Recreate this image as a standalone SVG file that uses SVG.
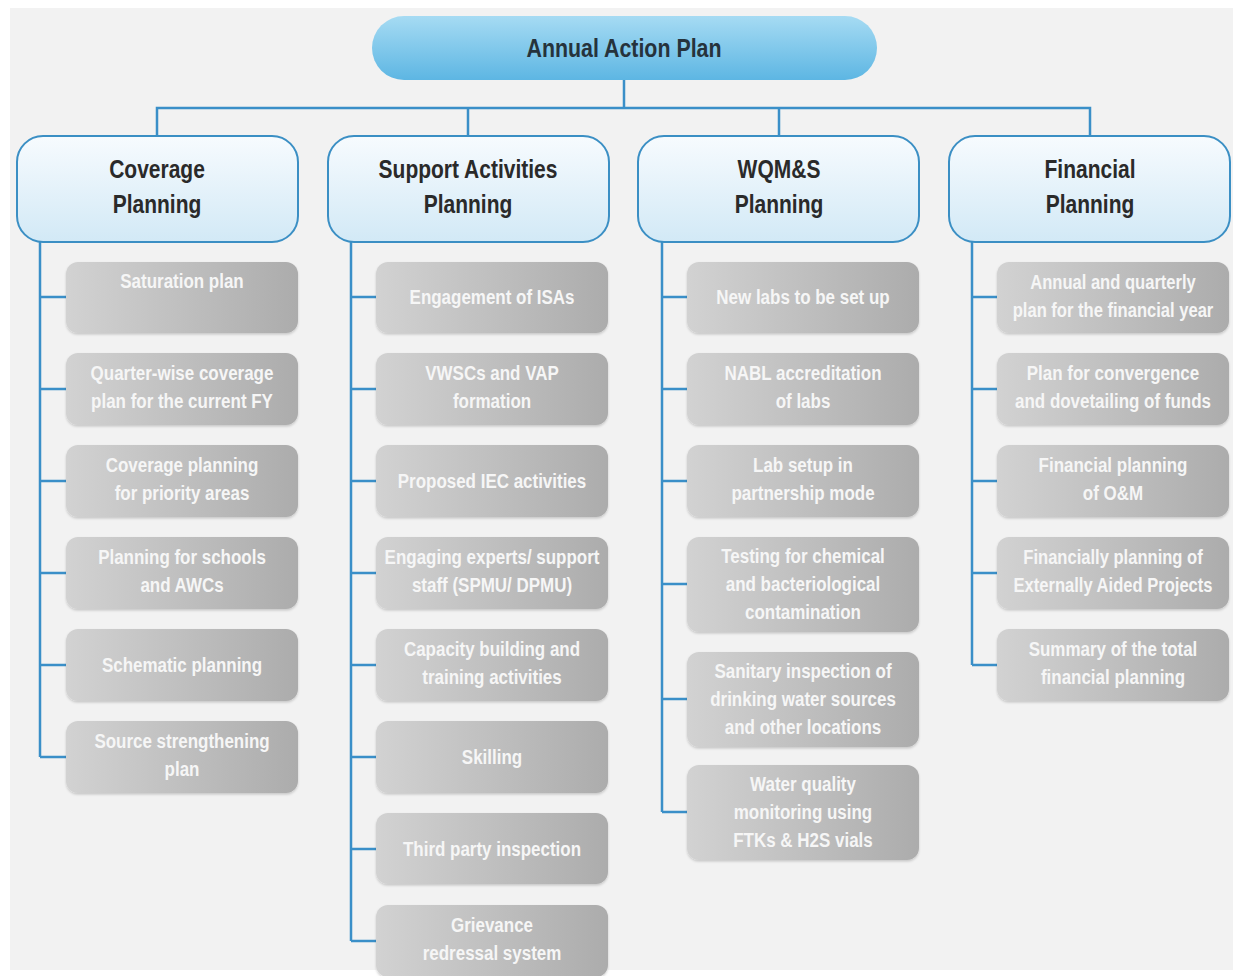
<svg xmlns="http://www.w3.org/2000/svg" width="1233" height="976" viewBox="0 0 1233 976">
<defs>
<linearGradient id="gTop" x1="0" y1="0" x2="0" y2="1">
<stop offset="0" stop-color="#a6dbf3"/>
<stop offset="1" stop-color="#5db6e3"/>
</linearGradient>
<linearGradient id="gHead" x1="0" y1="0" x2="0" y2="1">
<stop offset="0" stop-color="#f7fbfe"/>
<stop offset="1" stop-color="#d2e9f6"/>
</linearGradient>
<linearGradient id="gChild" x1="0" y1="0" x2="1" y2="0">
<stop offset="0" stop-color="#d2d2d2"/>
<stop offset="1" stop-color="#acacac"/>
</linearGradient>
<filter id="sh" x="-5%" y="-5%" width="110%" height="115%">
<feDropShadow dx="0" dy="1.5" stdDeviation="1.2" flood-color="#000" flood-opacity="0.18"/>
</filter>
</defs>
<style>
.top{fill:url(#gTop)}
.head{fill:url(#gHead);stroke:#3b8fc4;stroke-width:2}
.child{fill:url(#gChild);filter:url(#sh)}
.conn{fill:none;stroke:#3a8fc8;stroke-width:2.5}
text{font-family:"Liberation Sans",Arial,sans-serif;font-weight:bold;text-anchor:middle}
.tt{font-size:25px;fill:#26333c}
.ht{font-size:25px;fill:#2a2a2a}
.ct{font-size:19.5px;fill:#f6f6f6}
</style>
<rect x="0" y="0" width="1233" height="976" fill="#ffffff"/>
<rect x="10" y="8" width="1223" height="962" fill="#f2f2f2"/>

<g id="connectors" class="conn">
<path d="M624 80V108M157 136V108H1090V136M468 108V136M779 108V136"/>
<path d="M40 242V757M40 297H66M40 389H66M40 481H66M40 573H66M40 665H66M40 757H66"/>
<path d="M351 242V941M351 297H376M351 389H376M351 481H376M351 573H376M351 665H376M351 757H376M351 849H376M351 941H376"/>
<path d="M662 242V812M662 297H687M662 389H687M662 481H687M662 584H687M662 699H687M662 812H687"/>
<path d="M972 242V665M972 297H997M972 389H997M972 481H997M972 573H997M972 665H997"/>
</g>

<g id="annual-action-plan">
<rect class="top" x="372" y="16" width="505" height="64" rx="32"/>
<text class="tt" transform="translate(624 57) scale(0.855 1)">Annual Action Plan</text>
</g>

<g id="coverage-planning">
<rect class="head" x="17" y="136" width="281" height="106" rx="26"/>
<text class="ht" transform="translate(157 178) scale(0.84 1)"><tspan x="0">Coverage</tspan><tspan x="0" dy="35">Planning</tspan></text>
</g>
<g id="support-activities-planning">
<rect class="head" x="328" y="136" width="281" height="106" rx="26"/>
<text class="ht" transform="translate(468 178) scale(0.84 1)"><tspan x="0">Support Activities</tspan><tspan x="0" dy="35">Planning</tspan></text>
</g>
<g id="wqms-planning">
<rect class="head" x="638" y="136" width="281" height="106" rx="26"/>
<text class="ht" transform="translate(779 178) scale(0.84 1)"><tspan x="0">WQM&amp;S</tspan><tspan x="0" dy="35">Planning</tspan></text>
</g>
<g id="financial-planning">
<rect class="head" x="949" y="136" width="281" height="106" rx="26"/>
<text class="ht" transform="translate(1090 178) scale(0.84 1)"><tspan x="0">Financial</tspan><tspan x="0" dy="35">Planning</tspan></text>
</g>

<!-- Coverage children -->
<g id="c1"><rect class="child" x="66" y="262" width="232" height="71" rx="12"/><text class="ct" transform="translate(182 288) scale(0.87 1)">Saturation plan</text></g>
<g id="c2"><rect class="child" x="66" y="353" width="232" height="72" rx="12"/><text class="ct" transform="translate(182 380) scale(0.87 1)"><tspan x="0">Quarter-wise coverage</tspan><tspan x="0" dy="28">plan for the current FY</tspan></text></g>
<g id="c3"><rect class="child" x="66" y="445" width="232" height="72" rx="12"/><text class="ct" transform="translate(182 472) scale(0.87 1)"><tspan x="0">Coverage planning</tspan><tspan x="0" dy="28">for priority areas</tspan></text></g>
<g id="c4"><rect class="child" x="66" y="537" width="232" height="72" rx="12"/><text class="ct" transform="translate(182 564) scale(0.87 1)"><tspan x="0">Planning for schools</tspan><tspan x="0" dy="28">and AWCs</tspan></text></g>
<g id="c5"><rect class="child" x="66" y="629" width="232" height="72" rx="12"/><text class="ct" transform="translate(182 672) scale(0.87 1)">Schematic planning</text></g>
<g id="c6"><rect class="child" x="66" y="721" width="232" height="72" rx="12"/><text class="ct" transform="translate(182 748) scale(0.87 1)"><tspan x="0">Source strengthening</tspan><tspan x="0" dy="28">plan</tspan></text></g>

<!-- Support children -->
<g id="s1"><rect class="child" x="376" y="262" width="232" height="71" rx="12"/><text class="ct" transform="translate(492 304) scale(0.87 1)">Engagement of ISAs</text></g>
<g id="s2"><rect class="child" x="376" y="353" width="232" height="72" rx="12"/><text class="ct" transform="translate(492 380) scale(0.87 1)"><tspan x="0">VWSCs and VAP</tspan><tspan x="0" dy="28">formation</tspan></text></g>
<g id="s3"><rect class="child" x="376" y="445" width="232" height="72" rx="12"/><text class="ct" transform="translate(492 488) scale(0.87 1)">Proposed IEC activities</text></g>
<g id="s4"><rect class="child" x="376" y="537" width="232" height="72" rx="12"/><text class="ct" transform="translate(492 564) scale(0.87 1)"><tspan x="0">Engaging experts/ support</tspan><tspan x="0" dy="28">staff (SPMU/ DPMU)</tspan></text></g>
<g id="s5"><rect class="child" x="376" y="629" width="232" height="72" rx="12"/><text class="ct" transform="translate(492 656) scale(0.87 1)"><tspan x="0">Capacity building and</tspan><tspan x="0" dy="28">training activities</tspan></text></g>
<g id="s6"><rect class="child" x="376" y="721" width="232" height="72" rx="12"/><text class="ct" transform="translate(492 764) scale(0.87 1)">Skilling</text></g>
<g id="s7"><rect class="child" x="376" y="813" width="232" height="71" rx="12"/><text class="ct" transform="translate(492 856) scale(0.87 1)">Third party inspection</text></g>
<g id="s8"><rect class="child" x="376" y="905" width="232" height="72" rx="12"/><text class="ct" transform="translate(492 932) scale(0.87 1)"><tspan x="0">Grievance</tspan><tspan x="0" dy="28">redressal system</tspan></text></g>

<!-- WQM&S children -->
<g id="w1"><rect class="child" x="687" y="262" width="232" height="71" rx="12"/><text class="ct" transform="translate(803 304) scale(0.87 1)">New labs to be set up</text></g>
<g id="w2"><rect class="child" x="687" y="353" width="232" height="72" rx="12"/><text class="ct" transform="translate(803 380) scale(0.87 1)"><tspan x="0">NABL accreditation</tspan><tspan x="0" dy="28">of labs</tspan></text></g>
<g id="w3"><rect class="child" x="687" y="445" width="232" height="72" rx="12"/><text class="ct" transform="translate(803 472) scale(0.87 1)"><tspan x="0">Lab setup in</tspan><tspan x="0" dy="28">partnership mode</tspan></text></g>
<g id="w4"><rect class="child" x="687" y="537" width="232" height="95" rx="12"/><text class="ct" transform="translate(803 563) scale(0.87 1)"><tspan x="0">Testing for chemical</tspan><tspan x="0" dy="28">and bacteriological</tspan><tspan x="0" dy="28">contamination</tspan></text></g>
<g id="w5"><rect class="child" x="687" y="652" width="232" height="95" rx="12"/><text class="ct" transform="translate(803 678) scale(0.87 1)"><tspan x="0">Sanitary inspection of</tspan><tspan x="0" dy="28">drinking water sources</tspan><tspan x="0" dy="28">and other locations</tspan></text></g>
<g id="w6"><rect class="child" x="687" y="765" width="232" height="95" rx="12"/><text class="ct" transform="translate(803 791) scale(0.87 1)"><tspan x="0">Water quality</tspan><tspan x="0" dy="28">monitoring using</tspan><tspan x="0" dy="28">FTKs &amp; H2S vials</tspan></text></g>

<!-- Financial children -->
<g id="f1"><rect class="child" x="997" y="262" width="232" height="71" rx="12"/><text class="ct" transform="translate(1113 289) scale(0.85 1)"><tspan x="0">Annual and quarterly</tspan><tspan x="0" dy="28">plan for the financial year</tspan></text></g>
<g id="f2"><rect class="child" x="997" y="353" width="232" height="72" rx="12"/><text class="ct" transform="translate(1113 380) scale(0.87 1)"><tspan x="0">Plan for convergence</tspan><tspan x="0" dy="28">and dovetailing of funds</tspan></text></g>
<g id="f3"><rect class="child" x="997" y="445" width="232" height="72" rx="12"/><text class="ct" transform="translate(1113 472) scale(0.87 1)"><tspan x="0">Financial planning</tspan><tspan x="0" dy="28">of O&amp;M</tspan></text></g>
<g id="f4"><rect class="child" x="997" y="537" width="232" height="72" rx="12"/><text class="ct" transform="translate(1113 564) scale(0.85 1)"><tspan x="0">Financially planning of</tspan><tspan x="0" dy="28">Externally Aided Projects</tspan></text></g>
<g id="f5"><rect class="child" x="997" y="629" width="232" height="72" rx="12"/><text class="ct" transform="translate(1113 656) scale(0.87 1)"><tspan x="0">Summary of the total</tspan><tspan x="0" dy="28">financial planning</tspan></text></g>
</svg>
